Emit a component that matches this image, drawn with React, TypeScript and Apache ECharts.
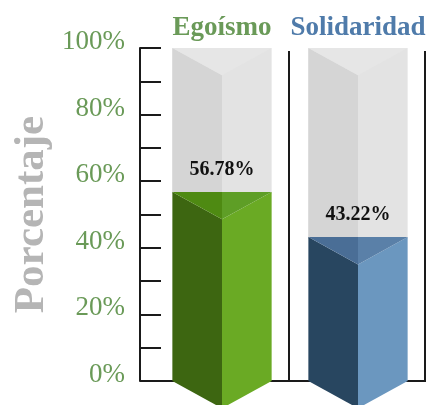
import React, { useEffect, useRef } from 'react';
import * as echarts from 'echarts';

const categories = ['Egoísmo', 'Solidaridad'];
const values = [56.78, 43.22];
const backgroundValues = [100, 100];
const yLabelValues = [0, 20, 40, 60, 80, 100];

const titleColors = ['#6A9A58', '#4F7BAA'];
const faceColors = [
  { left: '#3D6611', right: '#6AAA24', topL: '#4E8A12', topR: '#5E9E26' },
  { left: '#284660', right: '#6B97BF', topL: '#4A6E96', topR: '#5A80A8' },
];
const SERIF = "'Liberation Serif', 'Times New Roman', serif";
const AXIS_OFFSET = 14;
const LINE_COLOR = '#1a1a1a';

export default function App() {
  const ref = useRef<HTMLDivElement>(null);
  useEffect(() => {
    if (!ref.current) return;
    const chart = echarts.init(ref.current, undefined, { renderer: 'svg' });
    const data = categories.map((c, i) => [i, values[i], backgroundValues[i]]);
    const renderItem = (params: any, api: any) => {
      const idx = params.dataIndex;
      const cat = api.value(0);
      const v = api.value(1);
      const bg = api.value(2);
      const band = api.size([1, 0])[0];
      const [cx, y0] = api.coord([cat, 0]);
      const yv = api.coord([cat, v])[1];
      const ybg = api.coord([cat, bg])[1];
      const half = band * 0.365;
      const depth = half * 0.55;
      const left = cx - band / 2 - (idx === 0 ? AXIS_OFFSET : 0);
      const right = cx + band / 2 - 1;
      const fc = faceColors[idx];
      const children: any[] = [
        { type: 'line', shape: { x1: left, y1: y0, x2: right + 1, y2: y0 }, style: { stroke: LINE_COLOR, lineWidth: 2 } },
        { type: 'line', shape: { x1: right, y1: ybg + 3, x2: right, y2: y0 }, style: { stroke: LINE_COLOR, lineWidth: 2 } },
        // gray background column
        { type: 'rect', shape: { x: cx - half, y: ybg, width: half * 2, height: yv - ybg + 2 }, style: { fill: '#E3E3E3' } },
        { type: 'polygon', shape: { points: [[cx - half, ybg], [cx, ybg + depth], [cx, yv + 2], [cx - half, yv + 2]] }, style: { fill: '#D5D5D5' } },
        { type: 'polygon', shape: { points: [[cx - half, ybg], [cx + half, ybg], [cx, ybg + depth]] }, style: { fill: '#E6E6E6' } },
        // colored prism
        { type: 'polygon', shape: { points: [[cx - half, yv], [cx, yv + depth], [cx, y0 + depth], [cx - half, y0]] }, style: { fill: fc.left } },
        { type: 'polygon', shape: { points: [[cx, yv + depth], [cx + half, yv], [cx + half, y0], [cx, y0 + depth]] }, style: { fill: fc.right } },
        { type: 'polygon', shape: { points: [[cx - half, yv], [cx, yv], [cx, yv + depth]] }, style: { fill: fc.topL } },
        { type: 'polygon', shape: { points: [[cx, yv], [cx + half, yv], [cx, yv + depth]] }, style: { fill: fc.topR } },
        {
          type: 'text',
          style: {
            text: v.toFixed(2) + '%', x: cx, y: yv - 24, align: 'center', verticalAlign: 'middle',
            fontSize: 20, fontWeight: 'bold', fontFamily: SERIF, fill: '#111',
          },
        },
      ];
      return { type: 'group', children };
    };
    chart.setOption({
      animation: false,
      grid: { left: 154, right: 1, top: 48, bottom: 24, containLabel: false, outerBoundsMode: 'none' },
      xAxis: {
        type: 'category',
        data: categories,
        position: 'top',
        axisLine: { show: false },
        axisTick: { show: false },
        splitLine: { show: false },
        axisLabel: {
          margin: 9,
          formatter: (val: string, i: number) => `{c${i}|${val}}`,
          rich: {
            c0: { color: titleColors[0], fontSize: 27, fontWeight: 'bold', fontFamily: SERIF },
            c1: { color: titleColors[1], fontSize: 27, fontWeight: 'bold', fontFamily: SERIF },
          },
        },
      },
      yAxis: {
        type: 'value',
        min: 0,
        max: 100,
        interval: 10,
        offset: AXIS_OFFSET,
        axisLine: { show: true, lineStyle: { color: LINE_COLOR, width: 2 } },
        axisTick: { show: true, inside: true, length: 21, lineStyle: { color: LINE_COLOR, width: 2 } },
        splitLine: { show: false },
        axisLabel: {
          formatter: (val: number) => (yLabelValues.includes(val) ? val + '%' : ''),
          color: '#6A9A58',
          fontSize: 27,
          fontFamily: SERIF,
          margin: 15,
          verticalAlign: 'bottom',
          lineHeight: 16,
        },
        name: 'Porcentaje',
        nameLocation: 'middle',
        nameRotate: 90,
        nameGap: 90,
        nameMoveOverlap: false,
        nameTextStyle: { fontSize: 43, fontWeight: 'bold', color: '#B5B5B5', fontFamily: SERIF },
      },
      series: [
        {
          type: 'custom',
          renderItem,
          data,
          encode: { x: 0, y: 1 },
          clip: false,
        },
      ],
    });
    return () => chart.dispose();
  }, []);
  return <div ref={ref} style={{ position: 'fixed', left: 0, top: 0, width: 427, height: 405 }} />;
}
